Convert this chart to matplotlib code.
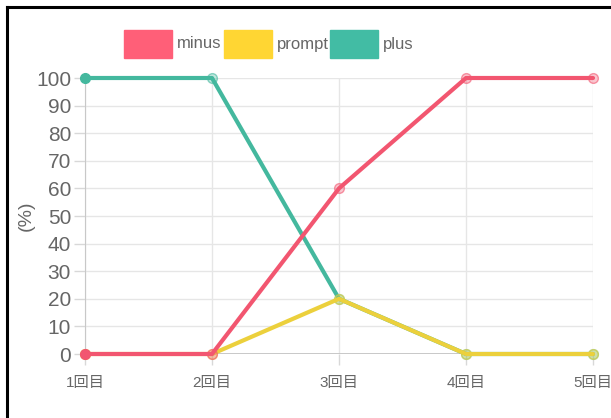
import matplotlib
matplotlib.use("Agg")
import matplotlib.pyplot as plt
from matplotlib.lines import Line2D
from matplotlib.patches import Rectangle

rounds = ["1回目", "2回目", "3回目", "4回目", "5回目"]
minus = [0, 0, 60, 100, 100]
prompt = [0, 0, 20, 0, 0]
plus = [100, 100, 20, 0, 0]
yticks = list(range(0, 101, 10))

series = [
    ("minus", minus, "#f25670", "#ff5f78"),
    ("prompt", prompt, "#ecd03c", "#ffd633"),
    ("plus", plus, "#44b89e", "#42bca4"),
]

plt.rcParams["font.family"] = ["Liberation Sans", "Noto Sans CJK JP", "DejaVu Sans"]

W, H = 611, 418
fig = plt.figure(figsize=(W / 100, H / 100), dpi=100)
ax = fig.add_axes([85 / W, (H - 354) / H, (593 - 85) / W, (354 - 78) / H])

x = list(range(len(rounds)))
# plus at the bottom, minus on top
for z, (name, vals, lc, _) in enumerate([series[2], series[1], series[0]]):
    ax.plot(x, vals, color=lc, lw=3.0, zorder=3 + z, solid_capstyle="round",
            clip_on=False)
    ax.plot(x[1:], vals[1:], ls="none", marker="o", ms=7, mfc=lc + "55",
            mec=lc + "99", mew=1, zorder=3 + z, clip_on=False)
    ax.plot(x[:1], vals[:1], ls="none", marker="o", ms=7, mfc=lc, mec=lc,
            zorder=3 + z, clip_on=False)

ax.set_xlim(0, len(rounds) - 1)
ax.set_ylim(0, 100)
ax.set_xticks(x)
ax.set_xticklabels(rounds, fontsize=11)
ax.set_yticks(yticks)
ax.grid(True, color="#e6e6e6", lw=1)
ax.set_axisbelow(True)
for s in ["top", "right", "bottom"]:
    ax.spines[s].set_visible(False)
ax.spines["left"].set_color("#c8c8c8")
ax.axhline(0, color="#c0c0c0", lw=1.2, zorder=2)
ax.tick_params(axis="both", colors="#d8d8d8", labelcolor="#666666", length=8, width=1)
ax.tick_params(axis="y", pad=2, labelsize=15)
ax.tick_params(axis="x", pad=8)
ax.set_ylabel("(%)", color="#666666", fontsize=14)
ax.yaxis.set_label_coords(-0.098, 0.5)

# legend boxes along the top
lx = [124, 224, 330]
for (name, _, _, fc), x0 in zip(series, lx):
    fig.patches.append(Rectangle((x0 / W, (H - 58) / H), 48 / W, 28 / H,
                                 transform=fig.transFigure, color=fc))
    fig.text((x0 + 53) / W, (H - 44) / H, name, color="#666666", fontsize=12,
             va="center", ha="left")

# frame
fig.add_artist(Line2D([7 / W, 1], [(H - 7) / H] * 2, color="black", lw=2.2))
fig.add_artist(Line2D([7 / W, 7 / W], [0, (H - 7) / H], color="black", lw=2.2))

fig.savefig("out.png", dpi=100)
